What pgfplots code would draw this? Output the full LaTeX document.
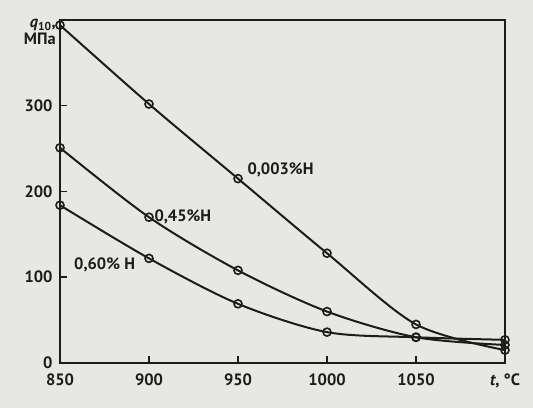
\documentclass[border=0pt]{standalone}
\usepackage{pgfplots}
\pgfplotsset{compat=1.18}
\usetikzlibrary{backgrounds}
\usepackage{fontspec}
\setmainfont{PT Sans}
\definecolor{paper}{RGB}{231,231,227}
\definecolor{ink}{RGB}{28,28,28}
\begin{document}
\begin{tikzpicture}
\begin{axis}[
  name=ax,
  scale only axis,
  width=445bp, height=343bp,
  xmin=850, xmax=1100, ymin=0, ymax=400,
  axis line style={ink, line width=1.8bp},
  xtick={850,900,950,1000,1050},
  ytick={0,100,200,300},
  tick pos=left,
  tick align=inside,
  major tick length=7bp,
  tick style={ink, line width=1.5bp},
  /pgf/number format/assume math mode=true,
  /pgf/number format/1000 sep={},
  tick label style={font=\fontsize{16.5}{18}\selectfont\bfseries, text=ink},
  xticklabel style={yshift=-7bp},
  yticklabel style={xshift=-4bp},
  clip=false,
]
\addplot[ink, line width=2bp, smooth, mark=o, mark size=4bp, mark options={fill=paper, line width=1.6bp}]
  coordinates {(850,394) (900,302) (950,215) (1000,128) (1050,45) (1100,15)};
\addplot[ink, line width=2bp, smooth, mark=o, mark size=4bp, mark options={fill=paper, line width=1.6bp}]
  coordinates {(850,251) (900,170) (950,108) (1000,60) (1050,30) (1100,21)};
\addplot[ink, line width=2bp, smooth, mark=o, mark size=4bp, mark options={fill=paper, line width=1.6bp}]
  coordinates {(850,184) (900,122) (950,69) (1000,36) (1050,30) (1100,27)};
\node[anchor=west, font=\fontsize{16.5}{18}\selectfont\bfseries, text=ink] at (axis cs:950,215) [xshift=6bp, yshift=9bp] {0,003\%H};
\node[anchor=west, font=\fontsize{16.5}{18}\selectfont\bfseries, text=ink] at (axis cs:900,170) [xshift=2bp] {0,45\%H};
\node[anchor=west, font=\fontsize{16.5}{18}\selectfont\bfseries, text=ink] at (axis cs:856,114) {0,60\% H};
\node[anchor=east, align=right, font=\fontsize{16.5}{17}\selectfont\bfseries, text=ink, inner sep=0pt] at (rel axis cs:0,1) [xshift=-4bp, yshift=-12bp] {\textit{q}$_{\mathbf{10}}$,\\МПа};
\node[anchor=north, font=\fontsize{16.5}{18}\selectfont\bfseries, text=ink] at (axis cs:1100,0) [yshift=-7bp] {\textit{t}, °C};
\end{axis}
\path (ax.south west) ++(-60bp,-45bp) coordinate (bl);
\path (ax.north east) ++(28bp,20bp) coordinate (tr);
\begin{pgfonlayer}{background}
\fill[paper] (bl) rectangle (tr);
\end{pgfonlayer}
\pgfresetboundingbox
\useasboundingbox (bl) rectangle (tr);
\end{tikzpicture}
\end{document}
